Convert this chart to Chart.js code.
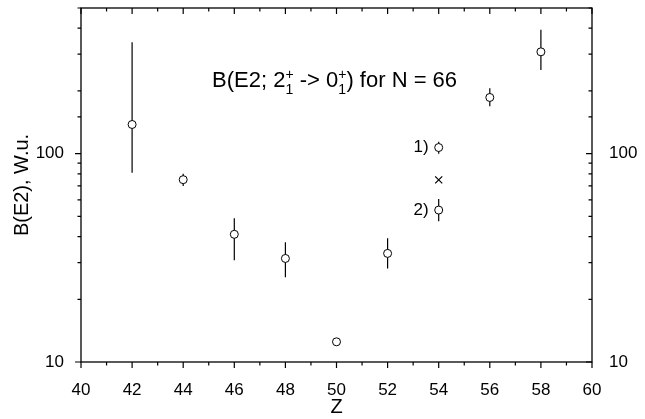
<!DOCTYPE html>
<html>
<head>
<meta charset="utf-8">
<script src="https://cdn.jsdelivr.net/npm/chart.js@4.4.0/dist/chart.umd.min.js"></script>
<style>body{margin:0;background:#fff}</style>
</head>
<body>
<canvas id="c" width="645" height="419"></canvas>
<script>
// data
const zMain = [42, 44, 46, 48, 50, 52, 56, 58];
const bMain = [138, 75, 41, 31.4, 12.5, 33.2, 186, 308];
const loMain = [81, 70, 30.8, 25.5, 12.5, 28.1, 169, 252];
const hiMain = [342, 80, 49, 37.6, 12.5, 39.3, 206, 393];

const zAlt = [54, 54];
const bAlt = [107, 53.6];
const loAlt = [100, 47.4];
const hiAlt = [114, 60.6];
const altLabels = ['1)', '2)'];

const zCross = [54];
const bCross = [74.8];

const xTicksLabeled = [40, 42, 44, 46, 48, 50, 52, 54, 56, 58, 60];
const yTicksLabeled = [10, 100];

const FONT = 'Liberation Sans, Arial, sans-serif';

function pts(xs, ys) { return xs.map((x, i) => ({ x: x, y: ys[i] })) }

// error bars, drawn under the circles
const errorBars = {
    id: 'errorBars',
    beforeDatasetsDraw(chart) {
        const c = chart.ctx;
        const xs = chart.scales.x, ys = chart.scales.y;
        c.save();
        c.strokeStyle = '#000';
        c.lineWidth = 1.2;
        chart.data.datasets.forEach(ds => {
            if (!ds.lo) return;
            ds.data.forEach((p, i) => {
                if (ds.lo[i] == ds.hi[i]) return;
                const px = xs.getPixelForValue(p.x);
                c.beginPath();
                c.moveTo(px, ys.getPixelForValue(ds.lo[i]));
                c.lineTo(px, ys.getPixelForValue(ds.hi[i]));
                c.stroke();
            });
        });
        c.restore();
    }
};

// frame + ticks (left/bottom out, top/right in)
const frameTicks = {
    id: 'frameTicks',
    afterDraw(chart) {
        const c = chart.ctx;
        const a = chart.chartArea;
        c.save();
        c.strokeStyle = '#000';
        c.lineWidth = 1.3;
        c.strokeRect(a.left, a.top, a.right - a.left, a.bottom - a.top);
        c.lineWidth = 1.2;
        const xs = chart.scales.x, ys = chart.scales.y;
        xs.ticks.forEach(t => {
            const px = xs.getPixelForValue(t.value);
            const len = xTicksLabeled.includes(t.value) ? 6 : 3.5;
            c.beginPath();
            c.moveTo(px, a.bottom); c.lineTo(px, a.bottom + len);
            c.moveTo(px, a.top); c.lineTo(px, a.top + len);
            c.stroke();
        });
        ys.ticks.forEach(t => {
            const py = ys.getPixelForValue(t.value);
            const len = yTicksLabeled.includes(t.value) ? 6 : 3.5;
            c.beginPath();
            c.moveTo(a.left, py); c.lineTo(a.left - len, py);
            c.moveTo(a.right, py); c.lineTo(a.right - len, py);
            c.stroke();
        });
        c.restore();
    }
};

// text inside the plot
const texts = {
    id: 'texts',
    afterDatasetsDraw(chart) {
        const c = chart.ctx;
        const xs = chart.scales.x, ys = chart.scales.y;
        c.save();
        c.fillStyle = '#000';
        c.textBaseline = 'middle';
        c.textAlign = 'right';
        c.font = '17px ' + FONT;
        altLabels.forEach((s, i) => {
            c.fillText(s, xs.getPixelForValue(zAlt[i]) - 10, ys.getPixelForValue(bAlt[i]));
        });

        // B(E2; 2_1^+ -> 0_1^+) for N = 66
        c.textAlign = 'left';
        c.textBaseline = 'alphabetic';
        let x = xs.getPixelForValue(45.13);
        const y = ys.getPixelForValue(208);
        const big = '22px ' + FONT, small = '14px ' + FONT;
        const parts = [['B(E2; 2', 0], ['+', 1], [' -> 0', 0], ['+', 1], [') for N = 66', 0]];
        parts.forEach(p => {
            if (p[1]) {
                c.font = small;
                c.fillText('+', x, y - 8);
                c.fillText('1', x, y + 7);
                x += c.measureText('+').width;
            } else {
                c.font = big;
                c.fillText(p[0], x, y);
                x += c.measureText(p[0]).width;
            }
        });
        c.restore();
    }
};

const yTickCb = v => yTicksLabeled.includes(v) ? String(v) : '';
const noPad = s => { s.paddingTop = 0; s.paddingBottom = 0; s.paddingLeft = 0; s.paddingRight = 0 };

new Chart(document.getElementById('c'), {
    type: 'scatter',
    data: {
        datasets: [
            {
                data: pts(zMain, bMain), lo: loMain, hi: hiMain,
                pointStyle: 'circle', pointRadius: 4, pointBorderWidth: 1,
                borderColor: '#000', backgroundColor: '#fff'
            },
            {
                data: pts(zAlt, bAlt), lo: loAlt, hi: hiAlt,
                pointStyle: 'circle', pointRadius: 4, pointBorderWidth: 1,
                borderColor: '#000', backgroundColor: '#fff'
            },
            {
                data: pts(zCross, bCross),
                pointStyle: 'crossRot', pointRadius: 5, pointBorderWidth: 1.2,
                borderColor: '#000', backgroundColor: '#000'
            }
        ]
    },
    options: {
        responsive: false,
        animation: false,
        layout: { padding: 0 },
        plugins: { legend: { display: false }, tooltip: { enabled: false } },
        scales: {
            x: {
                type: 'linear', position: 'bottom', min: 40, max: 60,
                grid: { display: false }, border: { display: false },
                ticks: {
                    stepSize: 1, autoSkip: false, maxRotation: 0, padding: 10,
                    color: '#000', font: { family: FONT, size: 17 },
                    callback: v => xTicksLabeled.includes(v) ? String(v) : ''
                },
                title: { display: true, text: 'Z', color: '#000', font: { family: FONT, size: 20 }, padding: { top: 0, bottom: 0 } },
                afterFit: s => { s.height = 57; noPad(s) }
            },
            x2: {
                type: 'linear', position: 'top', min: 40, max: 60,
                grid: { display: false }, border: { display: false },
                ticks: { display: false },
                afterFit: s => { s.height = 8; noPad(s) }
            },
            y: {
                type: 'logarithmic', position: 'left', min: 10, max: 500,
                grid: { display: false }, border: { display: false },
                ticks: {
                    autoSkip: false, padding: 9, color: '#000',
                    font: { family: FONT, size: 17 }, callback: yTickCb
                },
                title: { display: true, text: 'B(E2), W.u.', color: '#000', font: { family: FONT, size: 20 }, padding: { top: 10, bottom: 0 } },
                afterFit: s => { s.width = 81; noPad(s) }
            },
            y2: {
                type: 'logarithmic', position: 'right', min: 10, max: 500,
                grid: { display: false }, border: { display: false },
                ticks: {
                    autoSkip: false, padding: 9, color: '#000',
                    font: { family: FONT, size: 17 }, callback: yTickCb
                },
                afterFit: s => { s.width = 53; noPad(s) }
            }
        }
    },
    plugins: [errorBars, frameTicks, texts]
});
</script>
</body>
</html>
